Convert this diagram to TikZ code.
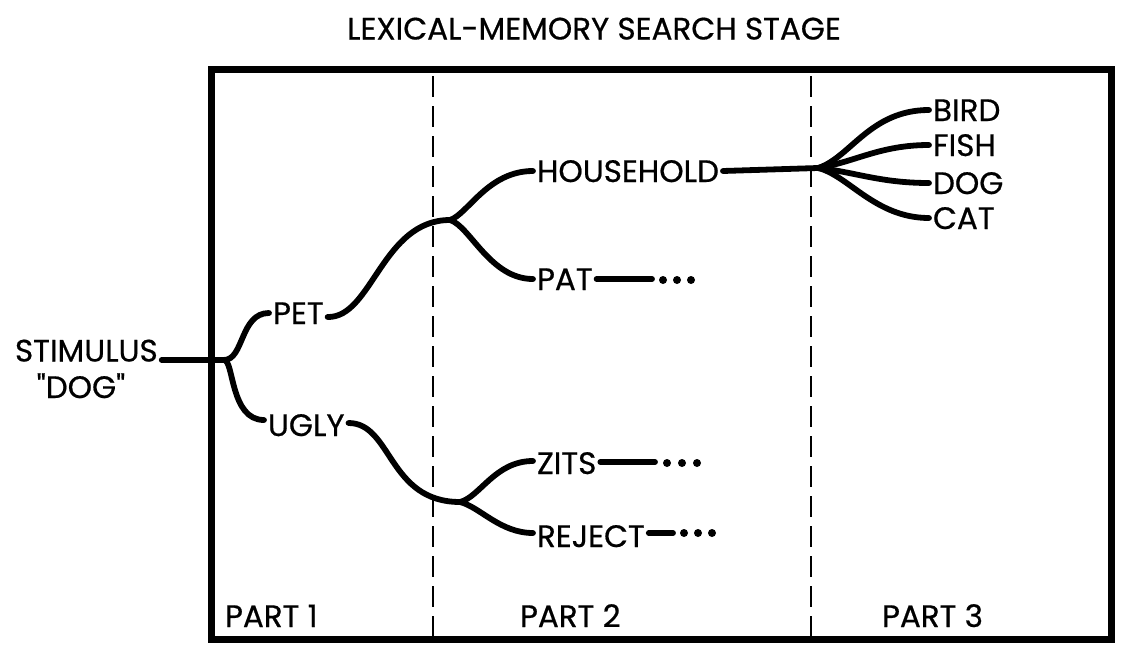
\documentclass[tikz,border=0pt]{standalone}
\usepackage{fontspec}
\setmainfont{Poppins}[Ligatures=TeXOff, FakeBold=0.6]
\usetikzlibrary{calc}

\begin{document}
\begin{tikzpicture}[x=1pt,y=-1pt,
  lbl/.style={font=\fontsize{31}{31}\selectfont, inner sep=0pt, outer sep=4pt,
              text height=22pt, text depth=0pt, anchor=west},
  wire/.style={line width=5.8pt, line cap=round, line join=round},
  frame/.style={line width=7pt, line join=miter},
  divider/.style={line width=2.8pt, dash pattern=on 21pt off 9pt},
  dot/.style={fill=black}
]
\useasboundingbox (0,0) rectangle (1121,645);

% title and frame
\node[lbl, anchor=center] (title) at (594,28.5) {LEXICAL-MEMORY SEARCH STAGE};
\draw[frame] (211,69) rectangle (1111,639);
\draw[divider] (433,76) -- (433,636);
\draw[divider] (811,76) -- (811,636);

% part captions
\node[lbl] (part1) at (221,616) {PART 1};
\node[lbl] (part2) at (516,616) {PART 2};
\node[lbl] (part3) at (878,616) {PART 3};

% stimulus
\node[lbl] (stim) at (11,350.5) {STIMULUS};
\node[lbl, anchor=center] (dogq) at (81,387) {"DOG"};

% part 1 words
\node[lbl] (pet)  at (269,313) {PET};
\node[lbl] (ugly) at (264,425) {UGLY};

% part 2 words
\node[lbl] (hh)     at (533,171) {HOUSEHOLD};
\node[lbl] (pat)    at (533,279) {PAT};
\node[lbl] (zits)   at (533,463) {ZITS};
\node[lbl] (reject) at (533,536) {REJECT};

% part 3 words
\node[lbl] (bird) at (929,110) {BIRD};
\node[lbl] (fish) at (929,145) {FISH};
\node[lbl] (dog)  at (929,183) {DOG};
\node[lbl] (cat)  at (929,218) {CAT};

% branching points and open ends
\coordinate (j1) at (224,360);
\coordinate (j2) at (450,220);
\coordinate (j3) at (818,168);
\coordinate (j4) at (460,502);
\coordinate (pend) at (652,279);
\coordinate (zend) at (655,462);
\coordinate (rend) at (673,533);

% stimulus into part 1
\draw[wire] (stim.east |- j1) -- (j1);
\draw[wire] (j1) .. controls (244,360) and (240,313) .. (pet.west);
\draw[wire] (j1) .. controls (234,360) and (230,420) .. ([yshift=5pt]ugly.west);

% part 1 into part 2
\draw[wire] ([yshift=-4pt]pet.east) .. controls (372,318) and (382,220) .. (j2);
\draw[wire] ([yshift=2pt]ugly.east) .. controls (392,423) and (388,502) .. (j4);
\draw[wire] (j2) .. controls (468,214) and (488,171) .. (hh.west);
\draw[wire] (j2) .. controls (470,226) and (490,279) .. (pat.west);
\draw[wire] (j4) .. controls (480,497) and (495,461) .. ([yshift=2pt]zits.west);
\draw[wire] (j4) .. controls (480,507) and (500,533) .. ([yshift=3pt]reject.west);

% trailing searches
\draw[wire] (pat.east) -- (pend);
\draw[wire] ([yshift=1pt]zits.east) -- (zend);
\draw[wire] ([yshift=3pt]reject.east) -- (rend);
\foreach \x in {663,677,691} \fill[dot] (\x,280) circle (4);
\foreach \x in {667,682,697} \fill[dot] (\x,463) circle (4);
\foreach \x in {684,698,712} \fill[dot] (\x,533) circle (4);

% part 2 into part 3
\draw[wire] (hh.east) -- (j3);
\draw[wire] (j3) .. controls (850,158) and (870,110) .. (bird.west);
\draw[wire] (j3) .. controls (855,162) and (880,145) .. (fish.west);
\draw[wire] (j3) .. controls (855,172) and (880,183) .. (dog.west);
\draw[wire] (j3) .. controls (848,175) and (875,218) .. (cat.west);
\end{tikzpicture}
\end{document}
